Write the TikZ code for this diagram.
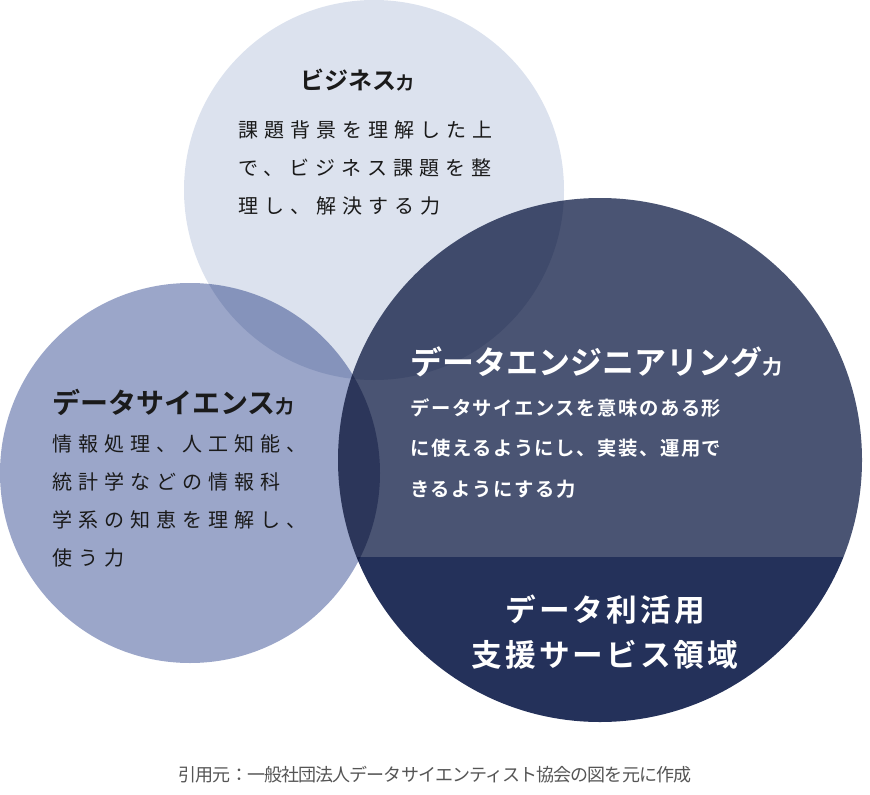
\documentclass[tikz,border=0pt]{standalone}
\usepackage{fontspec}
\setmainfont{Noto Sans CJK JP}
\newfontfamily\jpb{Noto Sans CJK JP Bold}
\newfontfamily\jp{Noto Sans CJK JP}[LetterSpace=30]
\definecolor{cbiz}{HTML}{DCE2EE}
\definecolor{cds}{HTML}{9BA6C9}
\definecolor{cde}{HTML}{4A5473}
\definecolor{cdark}{HTML}{24315A}
\definecolor{cdtext}{HTML}{1A1A1A}
\definecolor{ccap}{HTML}{555555}
\tikzset{
  body/.style={anchor=north west,align=left,font=\jp\fontsize{15}{28.5}\selectfont,inner sep=0pt},
  ttl/.style={anchor=west,inner sep=0pt},
}
\begin{document}
\begin{tikzpicture}[x=0.75pt,y=-0.75pt]
\useasboundingbox (0,0) rectangle (870,795);
\begin{scope}[blend mode=multiply]
\fill[cbiz] (374,190) circle (190);
\fill[cds] (190,473) circle (190);
\begin{scope}
\clip (600,460) circle (262);
\fill[cde] (330,190) rectangle (870,557);
\fill[cdark] (330,557) rectangle (870,730);
\end{scope}
\end{scope}
\node[ttl,font=\jpb\fontsize{18}{18}\selectfont,text=cdtext] (bt) at (300,80) {ビジネス\fontsize{13}{13}\selectfont 力};
\node[body,text=cdtext] (bb) at (238,120) {課題背景を理解した上\\で、ビジネス課題を整\\理し、解決する力};
\node[ttl,font=\jpb\fontsize{21}{21}\selectfont,text=cdtext] (st) at (52,402) {データサイエンス\fontsize{14}{14}\selectfont 力};
\node[body,text=cdtext] (sb) at (52,434) {情報処理、人工知能、\\統計学などの情報科\\学系の知恵を理解し、\\使う力};
\node[ttl,font=\jpb\fontsize{24}{24}\selectfont,text=white] (et) at (410,362) {データエンジニアリング\fontsize{15}{15}\selectfont 力};
\node[anchor=north west,align=left,inner sep=0pt,text=white,font=\jpb\addfontfeature{LetterSpace=8}\fontsize{14.5}{30.5}\selectfont] (eb) at (410,398) {データサイエンスを意味のある形\\に使えるようにし、実装、運用で\\きるようにする力};
\node[align=center,text=white,font=\jpb\addfontfeature{LetterSpace=10}\fontsize{23}{34}\selectfont] (dk) at (605,632) {データ利活用\\支援サービス領域};
\node[text=ccap,font=\jp\addfontfeature{LetterSpace=-5}\fontsize{13.5}{14}\selectfont] (cap) at (435,775) {引用元：一般社団法人データサイエンティスト協会の図を元に作成};
\end{tikzpicture}
\end{document}
